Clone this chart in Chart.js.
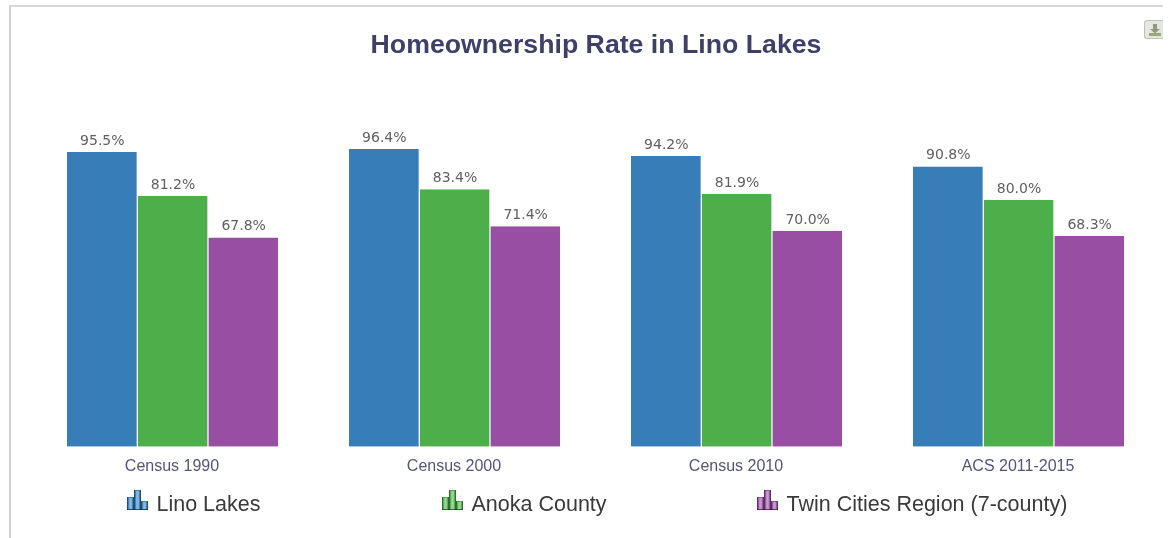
<!DOCTYPE html>
<html>
<head>
<meta charset="utf-8">
<script src="https://cdn.jsdelivr.net/npm/chart.js@4"></script>
<style>
  html, body { margin: 0; padding: 0; background: #fff; overflow: hidden; }
  #frame { position: absolute; left: 9px; top: 5px; width: 1154px; height: 533px;
           border-top: 2px solid #d8d8d8; border-left: 2px solid #d0d0d0; box-sizing: border-box; }
  #wrap { position: absolute; left: 0; top: 0; width: 1170px; height: 538px; }
  #save { position: absolute; left: 1144px; top: 20px; width: 19px; height: 19px; box-sizing: border-box;
          background: #e6e6e0; border: 1px solid #c0c0c0; border-right: none; border-radius: 3px 0 0 3px; }
  #save svg { position: absolute; left: 3px; top: 2px; }
</style>
</head>
<body>
<div id="frame"></div>
<div id="wrap"><canvas id="chart" width="1170" height="538"></canvas></div>
<div id="save"><svg width="14" height="14" viewBox="0 0 14 14">
  <path d="M5 1h4v5h3L7 10.5 2 6h3z" fill="#8f9a80"/><rect x="1" y="10" width="12" height="3" fill="#9aa878"/>
</svg></div>
<script>
const categories = ['Census 1990', 'Census 2000', 'Census 2010', 'ACS 2011-2015'];
const linoLakes = [95.5, 96.4, 94.2, 90.8];
const anokaCounty = [81.2, 83.4, 81.9, 80.0];
const twinCities = [67.8, 71.4, 70.0, 68.3];
const seriesNames = ['Lino Lakes', 'Anoka County', 'Twin Cities Region (7-county)'];
const seriesColors = ['#377eb8', '#4daf4a', '#984ea3'];
const legendIconX = [127, 442, 757];

// Value captions above each bar, one decimal with a percent sign
const valueLabels = {
  id: 'valueLabels',
  afterDatasetsDraw(chart) {
    const ctx = chart.ctx;
    ctx.save();
    ctx.font = '14px "DejaVu Sans"';
    ctx.fillStyle = '#606060';
    ctx.textAlign = 'center';
    ctx.textBaseline = 'alphabetic';
    chart.data.datasets.forEach((ds, i) => {
      chart.getDatasetMeta(i).data.forEach((bar, j) => {
        ctx.fillText(ds.data[j].toFixed(1) + '%', bar.x, bar.y - 7);
      });
    });
    ctx.restore();
  }
};

// Small three-column glyph used as the legend key: dark edges, pale centre
function drawKey(ctx, x, y, color) {
  const cols = [[0, 13, 7], [7, 20, 7], [14, 9, 7]];
  cols.forEach(([dx, h, w]) => {
    const top = y + 20 - h;
    ctx.fillStyle = color;
    ctx.fillRect(x + dx, top, w, h);
    const g = ctx.createLinearGradient(x + dx, 0, x + dx + w, 0);
    g.addColorStop(0.2, color);
    g.addColorStop(0.5, '#ffffff70');
    g.addColorStop(0.8, color);
    ctx.fillStyle = g;
    ctx.fillRect(x + dx + 1, top + 1, w - 2, h - 2);
    ctx.fillStyle = '#00000060';
    ctx.fillRect(x + dx, top, 1, h);
    ctx.fillRect(x + dx + w - 1, top, 1, h);
    ctx.fillRect(x + dx, top + h - 1, w, 1);
  });
}

// Legend row under the axis with unevenly spaced entries
const legendRow = {
  id: 'legendRow',
  afterDraw(chart) {
    const ctx = chart.ctx;
    ctx.save();
    ctx.textBaseline = 'alphabetic';
    ctx.textAlign = 'left';
    chart.data.datasets.forEach((ds, i) => {
      drawKey(ctx, legendIconX[i], 490, ds.backgroundColor);
      ctx.font = '21.5px "Liberation Sans"';
      ctx.fillStyle = '#3a3a3a';
      ctx.fillText(ds.label, legendIconX[i] + 29.5, 511);
    });
    ctx.restore();
  }
};

new Chart(document.getElementById('chart'), {
  type: 'bar',
  data: {
    labels: categories,
    datasets: [
      { label: seriesNames[0], data: linoLakes, backgroundColor: seriesColors[0] },
      { label: seriesNames[1], data: anokaCounty, backgroundColor: seriesColors[1] },
      { label: seriesNames[2], data: twinCities, backgroundColor: seriesColors[2] }
    ]
  },
  options: {
    responsive: false,
    animation: false,
    layout: { padding: { left: 32, right: 10, top: 0, bottom: 60 } },
    datasets: {
      bar: {
        categoryPercentage: 0.752,
        barPercentage: 1,
        borderWidth: { right: 1 },
        borderColor: '#ffffff',
        borderSkipped: false
      }
    },
    scales: {
      x: {
        grid: { display: false },
        border: { display: false },
        offset: true,
        ticks: { color: '#54547c', font: { family: '"Liberation Sans"', size: 16 }, padding: 2, maxRotation: 0, labelOffset: -1 }
      },
      y: { display: false, min: 0, max: 124.6 }
    },
    plugins: {
      legend: { display: false },
      tooltip: { enabled: false },
      title: {
        display: true,
        text: 'Homeownership Rate in Lino Lakes',
        color: '#3f4068',
        font: { family: '"Liberation Sans"', size: 26.7, weight: 'bold' },
        padding: { top: 30, bottom: 0 }
      }
    }
  },
  plugins: [valueLabels, legendRow]
});
</script>
</body>
</html>
